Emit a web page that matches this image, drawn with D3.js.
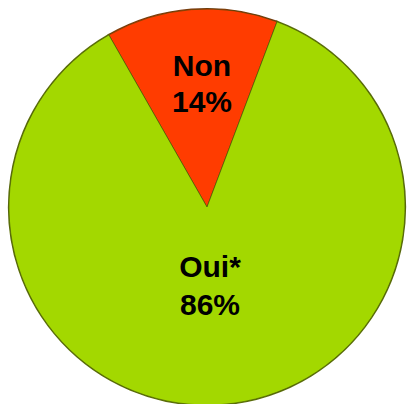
<!DOCTYPE html>
<html>
<head>
<meta charset="utf-8">
<script src="https://cdn.jsdelivr.net/npm/d3@7"></script>
<style>
  html, body { margin: 0; padding: 0; background: #fff; }
  svg { display: block; }
</style>
</head>
<body>
<svg id="chart" width="407" height="404"></svg>
<script>
const categories = ["Non", "Oui*"];
const values = [14, 86];
const labels = ["14%", "86%"];
const colors = ["#FF3C00", "#A3D800"];

const W = 407, H = 404;
const cx = 207, cy = 207, R = 198;

const svg = d3.select("#chart");
const defs = svg.append("defs");
const f = defs.append("filter").attr("id", "soft").attr("x", "-10%").attr("y", "-10%").attr("width", "120%").attr("height", "120%");
f.append("feGaussianBlur").attr("stdDeviation", 0.6);

const pie = d3.pie().sort(null).value(d => d)
  .startAngle(-29.7 * Math.PI / 180)
  .endAngle(-29.7 * Math.PI / 180 + 2 * Math.PI);
const arcs = pie(values);
const arc = d3.arc().innerRadius(0).outerRadius(R);

const g = svg.append("g").attr("transform", `translate(${cx},${cy})`);

// dark outline / shadow
g.selectAll("path.shadow").data(arcs).join("path")
  .attr("class", "shadow")
  .attr("d", arc)
  .attr("fill", "none")
  .attr("stroke", (d, i) => i === 0 ? "#7a3a10" : "#5f7010")
  .attr("stroke-width", 2.2)
  .attr("filter", "url(#soft)");

g.selectAll("path.slice").data(arcs).join("path")
  .attr("class", "slice")
  .attr("d", arc)
  .attr("fill", (d, i) => colors[i])
  .attr("stroke", "#3d4a08")
  .attr("stroke-opacity", 0.55)
  .attr("stroke-width", 1);

// labels
const labelPos = [
  { x: 202 - cx, y1: 76 - cy, y2: 112 - cy },
  { x: 210 - cx, y1: 277 - cy, y2: 315 - cy }
];
const txt = g.selectAll("text.lbl").data(arcs).join("text")
  .attr("class", "lbl")
  .attr("text-anchor", "middle")
  .attr("font-family", "Liberation Sans, Arial, sans-serif")
  .attr("font-weight", "bold")
  .attr("font-size", 30)
  .attr("fill", "#000");
txt.append("tspan").attr("x", (d, i) => labelPos[i].x).attr("y", (d, i) => labelPos[i].y1).text((d, i) => categories[i]);
txt.append("tspan").attr("x", (d, i) => labelPos[i].x).attr("y", (d, i) => labelPos[i].y2).text((d, i) => labels[i]);
</script>
</body>
</html>
